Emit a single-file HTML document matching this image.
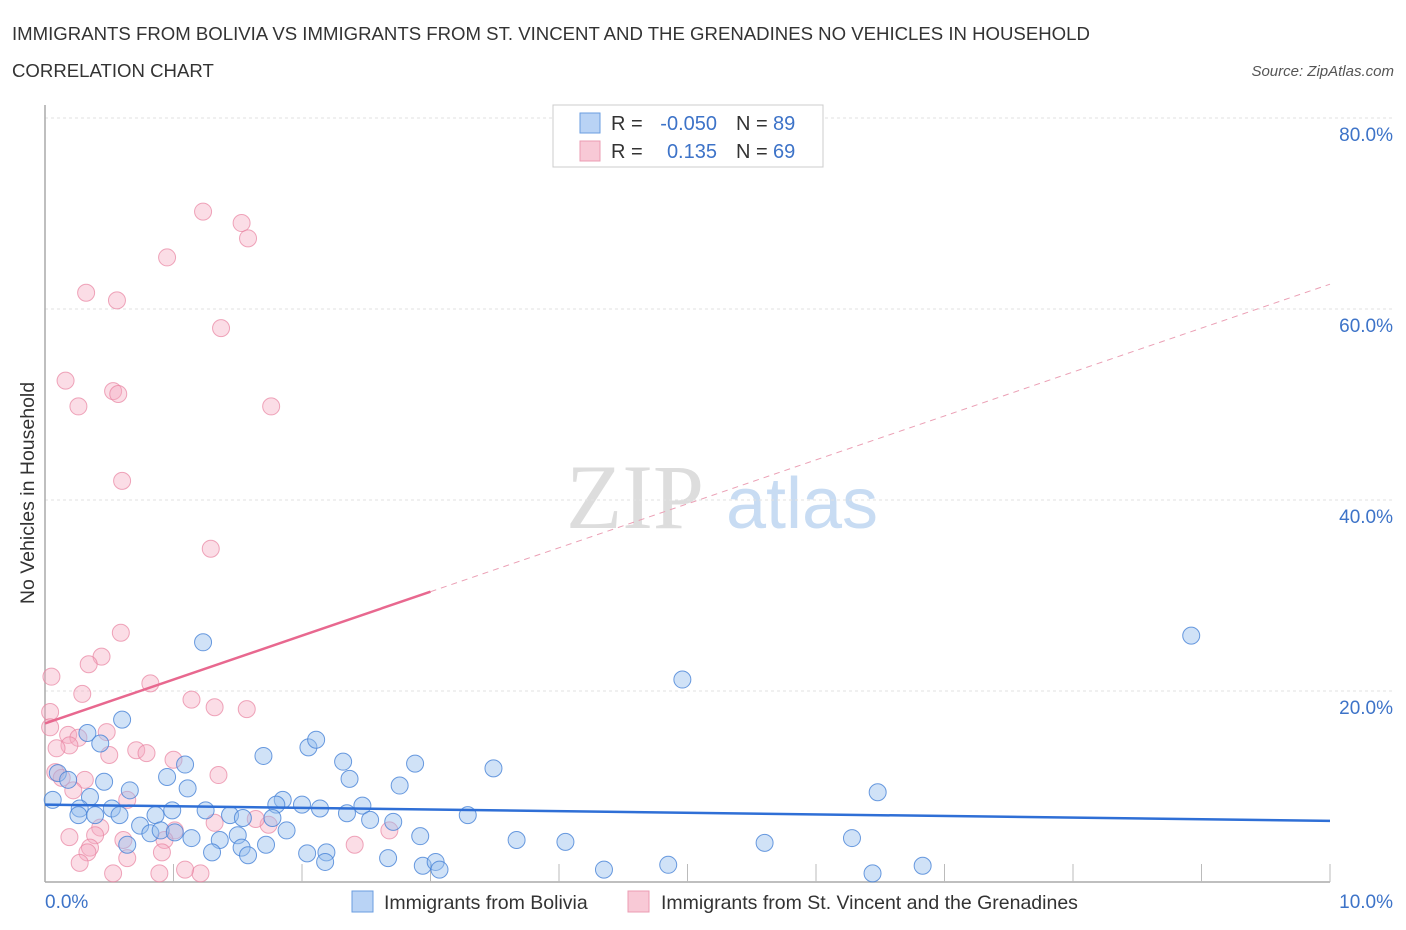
<!DOCTYPE html>
<html><head><meta charset="utf-8"><style>
body{margin:0;background:#fff;font-family:"Liberation Sans",sans-serif;}
svg{display:block}
</style></head><body>
<svg id="chart" width="1406" height="930">
<text x="12" y="40" font-size="18.6" fill="#333">IMMIGRANTS FROM BOLIVIA VS IMMIGRANTS FROM ST. VINCENT AND THE GRENADINES NO VEHICLES IN HOUSEHOLD</text>
<text x="12" y="77" font-size="18.6" fill="#333">CORRELATION CHART</text>
<text x="1394" y="76" font-size="15" fill="#555" font-style="italic" text-anchor="end">Source: ZipAtlas.com</text>
<text x="635" y="528" font-size="92" fill="#ddd" font-family="Liberation Serif,serif" text-anchor="middle">ZIP</text>
<text x="802" y="528" font-size="72" fill="#c8dcf3" text-anchor="middle">atlas</text>
<text transform="translate(34,493) rotate(-90)" font-size="19.5" fill="#333" text-anchor="middle">No Vehicles in Household</text>
<g id="grid"></g>
<g id="pts"></g>
<g id="lines"></g>
<g>
<rect x="553" y="105" width="270" height="62" fill="#fff" stroke="#ccc"/>
<rect x="580" y="113" width="20" height="20" fill="#b9d3f5" stroke="#6a9ee0"/>
<rect x="580" y="141" width="20" height="20" fill="#f8c9d6" stroke="#eb9cb3"/>
<text x="611" y="130" font-size="20" fill="#333">R =</text>
<text x="717" y="130" font-size="20" fill="#3d73c8" text-anchor="end">-0.050</text>
<text x="736" y="130" font-size="20" fill="#333">N =</text>
<text x="773" y="130" font-size="20" fill="#3d73c8">89</text>
<text x="611" y="158" font-size="20" fill="#333">R =</text>
<text x="717" y="158" font-size="20" fill="#3d73c8" text-anchor="end">0.135</text>
<text x="736" y="158" font-size="20" fill="#333">N =</text>
<text x="773" y="158" font-size="20" fill="#3d73c8">69</text>
</g>
<g>
<rect x="352" y="891" width="21" height="21" fill="#b9d3f5" stroke="#6a9ee0"/>
<text x="384" y="909" font-size="19.5" fill="#333">Immigrants from Bolivia</text>
<rect x="628" y="891" width="21" height="21" fill="#f8c9d6" stroke="#eb9cb3"/>
<text x="661" y="909" font-size="19.5" fill="#333">Immigrants from St. Vincent and the Grenadines</text>
</g>
</svg>
<script>
const yTicks=[20,40,60,80];
const yTickLabels=["20.0%","40.0%","60.0%","80.0%"];
const xTickLabels=["0.0%","10.0%"];
const blueX=[1.23,4.96,8.92,6.48,0.60,0.33,0.43,1.70,2.05,2.11,2.32,2.88,3.49,1.09,0.95,2.37,2.76,0.46,0.10,0.18,0.06,0.35,0.66,1.11,1.85,1.80,2.0,2.14,2.47,0.27,0.52,0.58,0.26,0.39,0.86,1.25,1.44,1.54,1.77,2.35,2.53,2.71,3.29,0.74,0.82,0.9,1.01,1.14,1.36,1.5,1.88,2.92,3.67,4.05,5.6,6.28,0.64,1.3,1.53,1.58,1.72,2.04,2.19,2.18,2.67,2.94,3.04,3.07,4.35,4.85,6.83,6.44,0.99];
const blueY=[25.1,21.2,25.8,9.4,17.0,15.6,14.5,13.2,14.1,14.9,12.6,12.4,11.9,12.3,11.0,10.8,10.1,10.5,11.4,10.7,8.6,8.9,9.6,9.8,8.6,8.1,8.1,7.7,8.0,7.7,7.7,7.0,7.0,7.0,7.0,7.5,7.0,6.7,6.7,7.2,6.5,6.3,7.0,5.9,5.1,5.4,5.2,4.6,4.4,4.9,5.4,4.8,4.4,4.2,4.1,4.6,3.9,3.1,3.6,2.8,3.9,3.0,3.1,2.1,2.5,1.7,2.1,1.3,1.3,1.8,1.7,0.9,7.5];
const pinkX=[1.23,1.53,1.58,0.95,0.32,0.56,1.37,0.16,0.53,0.57,0.26,1.76,0.60,1.29,0.59,0.44,0.34,0.05,0.82,0.29,1.14,1.32,1.57,0.04,0.04,0.48,0.18,0.26,0.19,0.09,0.71,0.79,0.5,1.0,1.35,0.08,0.13,0.31,0.22,0.64,1.74,1.32,2.68,1.01,0.43,0.19,0.39,0.61,0.93,2.41,0.35,0.33,0.64,0.91,0.27,0.53,0.89,1.21,1.09,1.64];
const pinkY=[70.2,69.0,67.4,65.4,61.7,60.9,58.0,52.5,51.4,51.1,49.8,49.8,42.0,34.9,26.1,23.6,22.8,21.5,20.8,19.7,19.1,18.3,18.1,17.8,16.2,15.7,15.4,15.1,14.3,14.0,13.8,13.5,13.3,12.8,11.2,11.5,10.9,10.7,9.6,8.6,6.0,6.2,5.4,5.4,5.7,4.7,4.9,4.4,4.4,3.9,3.6,3.1,2.5,3.1,2.0,0.9,0.9,0.9,1.3,6.6];
const pinkTrend=[16.6,62.6];
const blueTrend=[8.1,6.4];
const NS="http://www.w3.org/2000/svg";
const sx=v=>45+v*128.5, sy=v=>882-v*9.55;
function mk(t,a,p){const e=document.createElementNS(NS,t);for(const k in a)e.setAttribute(k,a[k]);p.appendChild(e);return e;}
const grid=document.getElementById('grid');
yTicks.forEach((t,i)=>{
 const l=mk('line',{x1:45,x2:1392,y1:sy(t),y2:sy(t),stroke:'#e2e2e2','stroke-dasharray':'3,3'},grid);
 
 
 const tx=mk('text',{x:1393,y:sy(t)+23,'font-size':19,fill:'#3d73c8','text-anchor':'end'},grid);
 tx.textContent=yTickLabels[i];
 
 
});
const ax=mk('line',{x1:45,x2:45,y1:105,y2:882,stroke:'#aaa','stroke-width':1.5},grid);


const bx=mk('line',{x1:45,x2:1330,y1:882,y2:882,stroke:'#aaa','stroke-width':1.5},grid);


for(let k=1;k<=10;k++){const t=mk('line',{x1:sx(k),x2:sx(k),y1:864,y2:882,stroke:'#bbb'},grid);
 
 }
[[0,'start',45],[10,'end',1393]].forEach((d,i)=>{const t=mk('text',{x:d[2],y:908,'font-size':19,fill:'#3d73c8','text-anchor':d[1]},grid);t.textContent=xTickLabels[i];
 
 });
const pts=document.getElementById('pts');
pinkX.forEach((x,i)=>{const c=mk('circle',{cx:sx(x),cy:sy(pinkY[i]),r:8.5,fill:'rgba(244,170,192,0.4)',stroke:'rgba(232,130,160,0.7)'},pts);
 
 });
blueX.forEach((x,i)=>{const c=mk('circle',{cx:sx(x),cy:sy(blueY[i]),r:8.5,fill:'rgba(150,190,238,0.45)',stroke:'rgba(70,130,215,0.8)'},pts);
 
 });
const lines=document.getElementById('lines');
const pv=x=>pinkTrend[0]+(pinkTrend[1]-pinkTrend[0])*x/10;
const p1=mk('line',{x1:sx(0),y1:sy(pv(0)),x2:sx(3),y2:sy(pv(3)),stroke:'#e8688f','stroke-width':2.5},lines);


const p2=mk('line',{x1:sx(3),y1:sy(pv(3)),x2:sx(10),y2:sy(pv(10)),stroke:'#eba0b5','stroke-width':1,'stroke-dasharray':'6,5'},lines);


const b1=mk('line',{x1:sx(0),y1:sy(blueTrend[0]),x2:sx(10),y2:sy(blueTrend[1]),stroke:'#2f6fd6','stroke-width':2.5},lines);


</script>
</body></html>
